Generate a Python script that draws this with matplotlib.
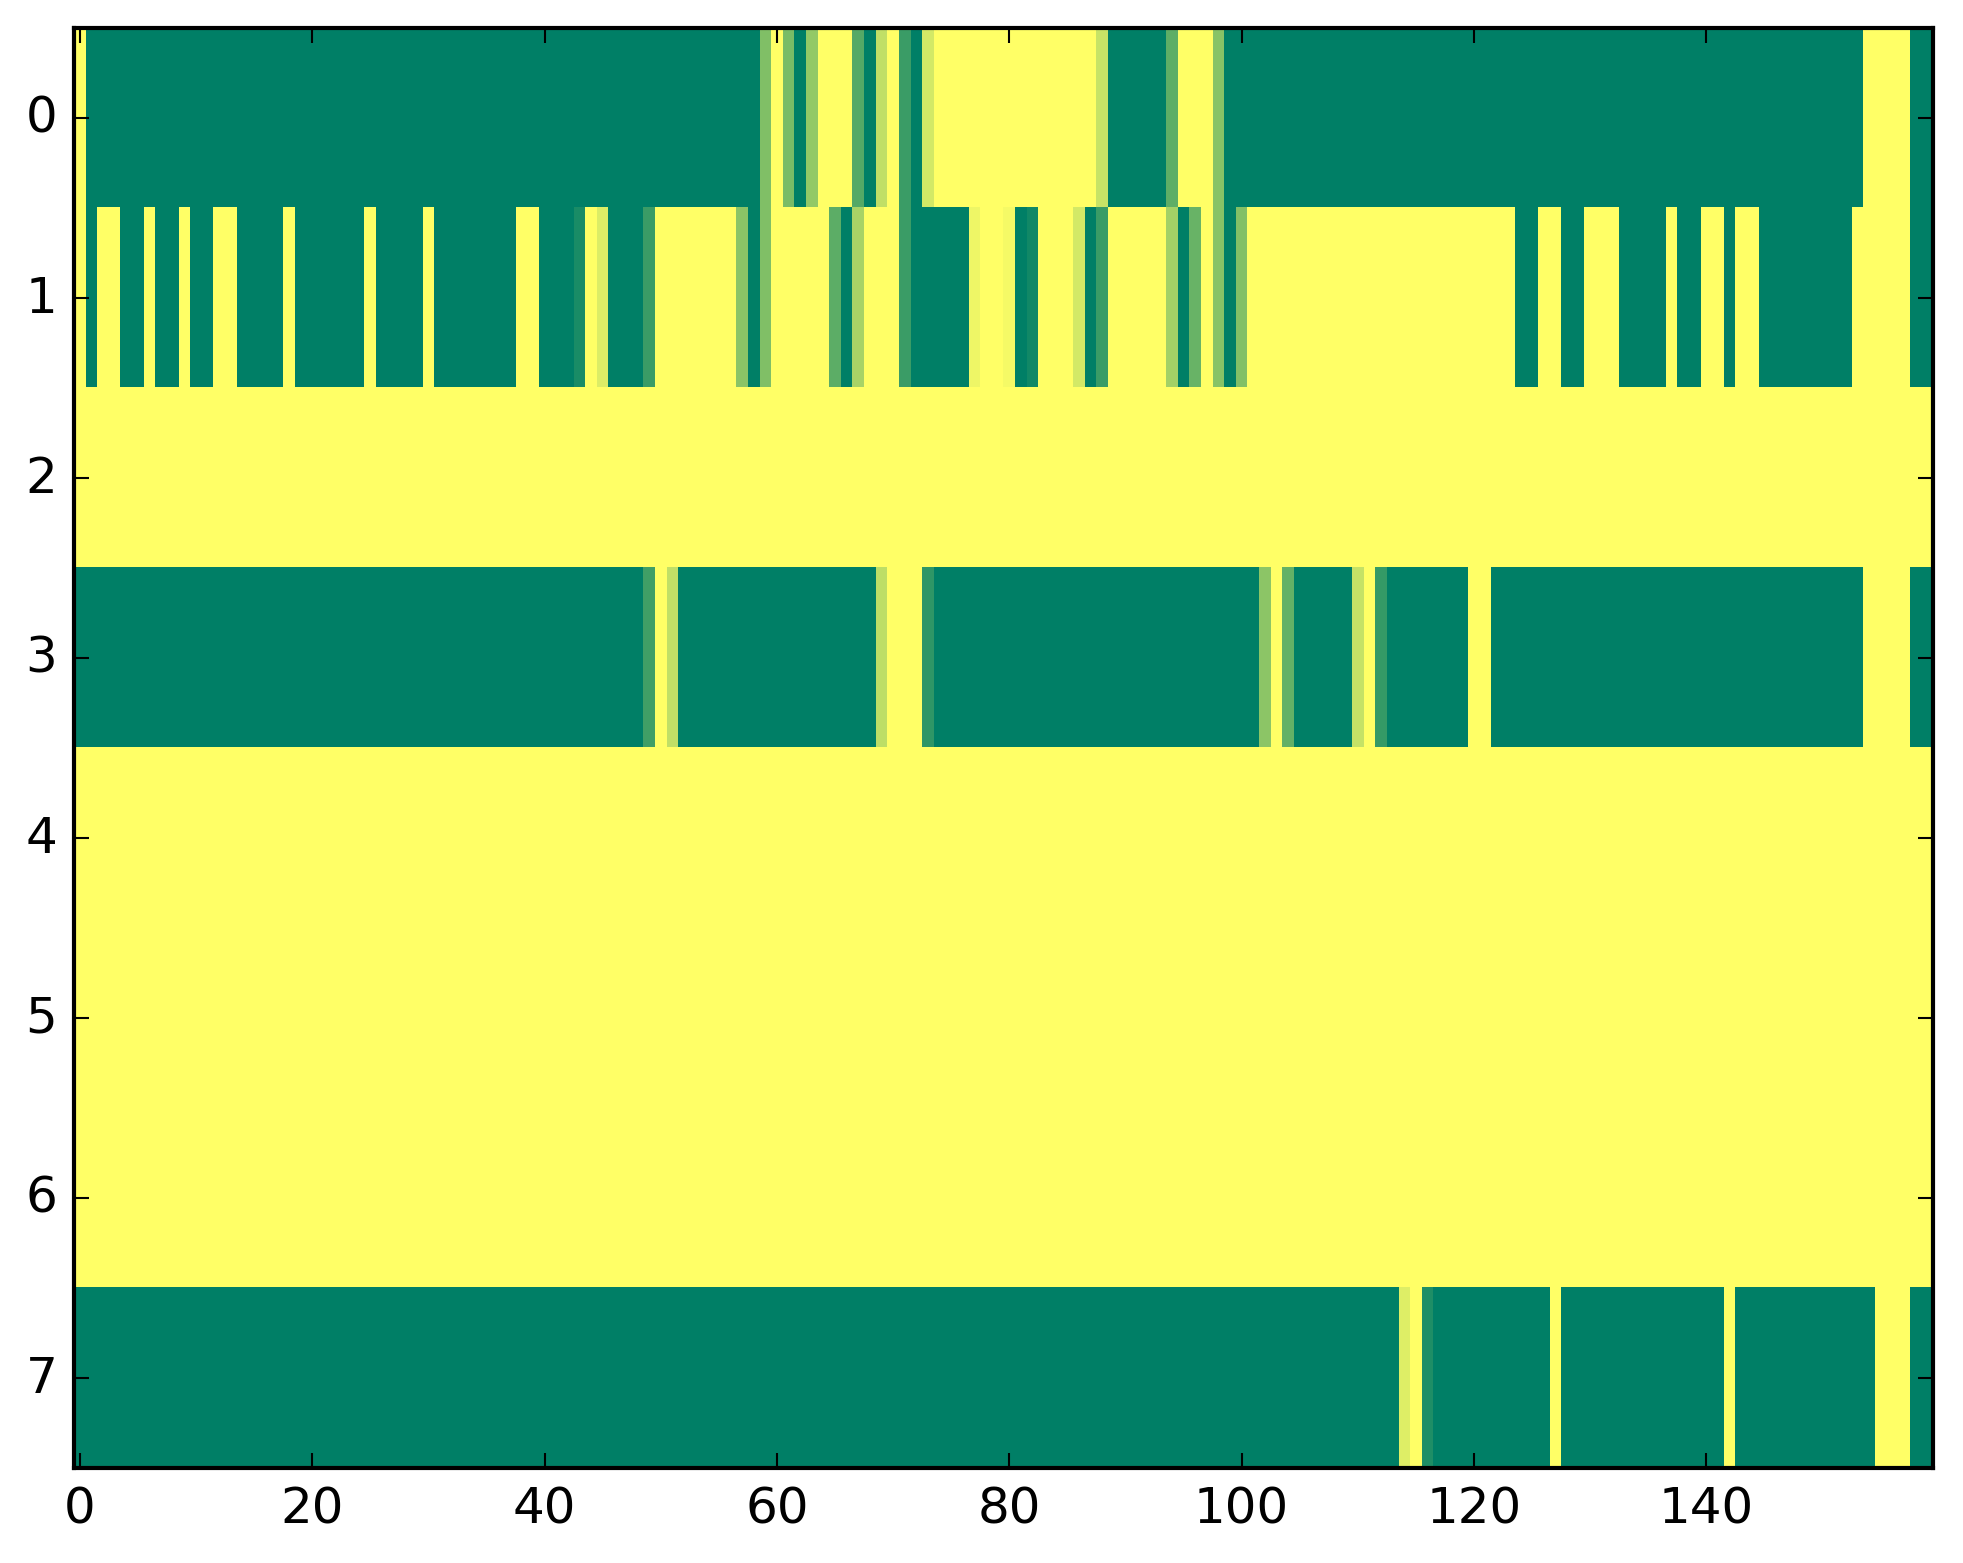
import numpy as np
import matplotlib
matplotlib.use("Agg")
from matplotlib import pyplot as plt

# each row of the matrix, 160 cells (0 = green, 1 = yellow)
row0 = [
    1, 0, 0, 0, 0, 0, 0, 0, 0, 0, 0, 0, 0, 0, 0, 0, 0, 0, 0, 0,
    0, 0, 0, 0, 0, 0, 0, 0, 0, 0, 0, 0, 0, 0, 0, 0, 0, 0, 0, 0,
    0, 0, 0, 0, 0, 0, 0, 0, 0, 0, 0, 0, 0, 0, 0, 0, 0, 0, 0, 0.5,
    1, 0.48, 0, 0.58, 1, 1, 1, 0.33, 0, 0.75, 1, 0.23, 0, 0.83, 1, 1, 1, 1, 1, 1,
    1, 1, 1, 1, 1, 1, 1, 1, 0.78, 0, 0, 0, 0, 0, 0.37, 1, 1, 1, 0.53, 0,
    0, 0, 0, 0, 0, 0, 0, 0, 0, 0, 0, 0, 0, 0, 0, 0, 0, 0, 0, 0,
    0, 0, 0, 0, 0, 0, 0, 0, 0, 0, 0, 0, 0, 0, 0, 0, 0, 0, 0, 0,
    0, 0, 0, 0, 0, 0, 0, 0, 0, 0, 0, 0, 0, 0, 1, 1, 1, 1, 0, 0,
]
row1 = [
    1, 0, 1, 1, 0, 0, 1, 0, 0, 1, 0, 0, 1, 1, 0, 0, 0, 0, 1, 0,
    0, 0, 0, 0, 0, 1, 0, 0, 0, 0, 1, 0, 0, 0, 0, 0, 0, 0, 1, 1,
    0, 0, 0, 0.1, 1, 0.86, 0, 0, 0, 0.23, 1, 1, 1, 1, 1, 1, 1, 0.54, 0, 0.5,
    1, 1, 1, 1, 1, 0.36, 0, 0.66, 1, 1, 1, 0.23, 0, 0, 0, 0, 0, 0.93, 1, 1,
    0.96, 0, 0.07, 1, 1, 1, 0.83, 0, 0.23, 1, 1, 1, 1, 1, 0.64, 0, 0.41, 1, 0.53, 0,
    0.51, 1, 1, 1, 1, 1, 1, 1, 1, 1, 1, 1, 1, 1, 1, 1, 1, 1, 1, 1,
    1, 1, 1, 1, 0, 0, 1, 1, 0, 0, 1, 1, 1, 0, 0, 0, 0, 1, 0, 0,
    1, 1, 0, 1, 1, 0, 0, 0, 0, 0, 0, 0, 0, 1, 1, 1, 1, 1, 0, 0,
]
row2 = [
    1, 1, 1, 1, 1, 1, 1, 1, 1, 1, 1, 1, 1, 1, 1, 1, 1, 1, 1, 1,
    1, 1, 1, 1, 1, 1, 1, 1, 1, 1, 1, 1, 1, 1, 1, 1, 1, 1, 1, 1,
    1, 1, 1, 1, 1, 1, 1, 1, 1, 1, 1, 1, 1, 1, 1, 1, 1, 1, 1, 1,
    1, 1, 1, 1, 1, 1, 1, 1, 1, 1, 1, 1, 1, 1, 1, 1, 1, 1, 1, 1,
    1, 1, 1, 1, 1, 1, 1, 1, 1, 1, 1, 1, 1, 1, 1, 1, 1, 1, 1, 1,
    1, 1, 1, 1, 1, 1, 1, 1, 1, 1, 1, 1, 1, 1, 1, 1, 1, 1, 1, 1,
    1, 1, 1, 1, 1, 1, 1, 1, 1, 1, 1, 1, 1, 1, 1, 1, 1, 1, 1, 1,
    1, 1, 1, 1, 1, 1, 1, 1, 1, 1, 1, 1, 1, 1, 1, 1, 1, 1, 1, 1,
]
row3 = [
    0, 0, 0, 0, 0, 0, 0, 0, 0, 0, 0, 0, 0, 0, 0, 0, 0, 0, 0, 0,
    0, 0, 0, 0, 0, 0, 0, 0, 0, 0, 0, 0, 0, 0, 0, 0, 0, 0, 0, 0,
    0, 0, 0, 0, 0, 0, 0, 0, 0, 0.25, 1, 0.75, 0, 0, 0, 0, 0, 0, 0, 0,
    0, 0, 0, 0, 0, 0, 0, 0, 0, 0.74, 1, 1, 1, 0.18, 0, 0, 0, 0, 0, 0,
    0, 0, 0, 0, 0, 0, 0, 0, 0, 0, 0, 0, 0, 0, 0, 0, 0, 0, 0, 0,
    0, 0, 0.55, 1, 0.39, 0, 0, 0, 0, 0, 0.77, 1, 0.21, 0, 0, 0, 0, 0, 0, 0,
    1, 1, 0, 0, 0, 0, 0, 0, 0, 0, 0, 0, 0, 0, 0, 0, 0, 0, 0, 0,
    0, 0, 0, 0, 0, 0, 0, 0, 0, 0, 0, 0, 0, 0, 1, 1, 1, 1, 0, 0,
]
row4 = list(row2)
row5 = list(row2)
row6 = list(row2)
row7 = [
    0, 0, 0, 0, 0, 0, 0, 0, 0, 0, 0, 0, 0, 0, 0, 0, 0, 0, 0, 0,
    0, 0, 0, 0, 0, 0, 0, 0, 0, 0, 0, 0, 0, 0, 0, 0, 0, 0, 0, 0,
    0, 0, 0, 0, 0, 0, 0, 0, 0, 0, 0, 0, 0, 0, 0, 0, 0, 0, 0, 0,
    0, 0, 0, 0, 0, 0, 0, 0, 0, 0, 0, 0, 0, 0, 0, 0, 0, 0, 0, 0,
    0, 0, 0, 0, 0, 0, 0, 0, 0, 0, 0, 0, 0, 0, 0, 0, 0, 0, 0, 0,
    0, 0, 0, 0, 0, 0, 0, 0, 0, 0, 0, 0, 0, 0, 0.87, 1, 0.12, 0, 0, 0,
    0, 0, 0, 0, 0, 0, 0, 1, 0, 0, 0, 0, 0, 0, 0, 0, 0, 0, 0, 0,
    0, 0, 1, 0, 0, 0, 0, 0, 0, 0, 0, 0, 0, 0, 0, 1, 1, 1, 0, 0,
]

plt.style.use("classic")

matrix = np.array([row0, row1, row2, row3, row4, row5, row6, row7], dtype=float)

DPI = 300
fig = plt.figure(figsize=(1963 / DPI, 1564 / DPI), dpi=DPI, facecolor="white")
ax = fig.add_axes([74 / 1963, 95.5 / 1564, 1859 / 1963, 1439.5 / 1564])
ax.imshow(matrix, cmap="summer", aspect="auto", interpolation="nearest", vmin=0, vmax=1)
ax.set_xticks(np.arange(0, 160, 20))
ax.set_yticks(np.arange(0, 8))
ax.tick_params(labelsize=12, length=3.6)

fig.savefig("out.png", dpi=DPI, facecolor="white")
